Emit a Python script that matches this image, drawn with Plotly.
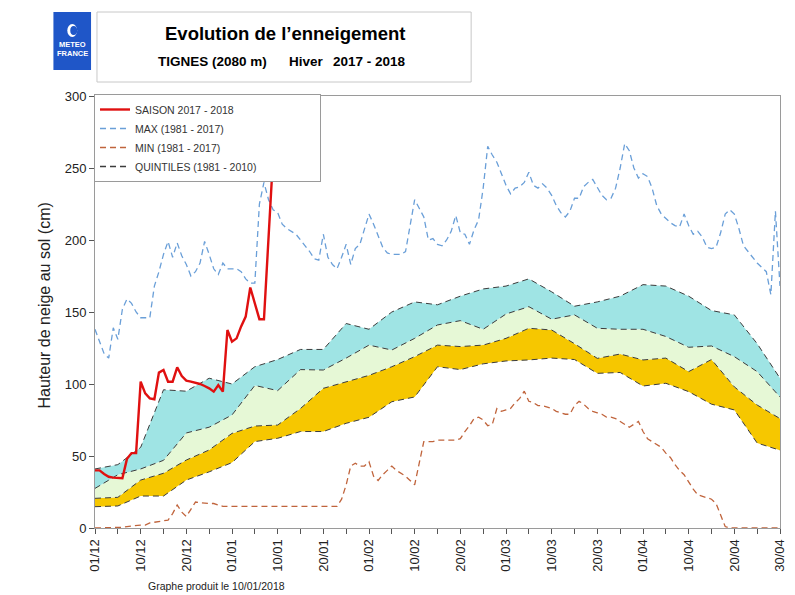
import plotly.graph_objects as go

# ---------------- DATA ----------------
# day index from 01/12 (0) to 30/04 (150)
days = list(range(151))
tick_days = [0, 10, 20, 30, 40, 50, 60, 70, 80, 90, 100, 110, 120, 130, 140, 150]
tick_labels = ["01/12", "10/12", "20/12", "01/01", "10/01", "20/01", "01/02", "10/02",
               "20/02", "01/03", "10/03", "20/03", "01/04", "10/04", "20/04", "30/04"]
minor_days = [5, 15, 25, 35, 45, 55, 65, 75, 85, 95, 105, 115, 125, 135, 145]

# season 2017-2018 (daily, 01/12 -> 09/01)
season_days = list(range(40))
season = [40, 40, 37.5, 35.6, 35, 34.5, 34.5, 48, 52, 52,
          101.6, 93.5, 90, 89.4, 107.9, 109.7, 101.6, 101.6, 111.6, 105.5,
          102.3, 101.6, 101, 100, 98.6, 97, 94.7, 99.3, 94.7, 137.5,
          129.4, 131.7, 140, 146.8, 167, 156, 145, 145, 200, 258]

max_1981_2017 = [138, 130, 121, 118, 139, 131, 152, 159, 156, 150,
                 146, 146, 146, 168, 178, 190, 199, 188, 198, 189,
                 183, 175, 178, 184, 199, 190, 180, 176, 184, 180,
                 180, 180, 178, 173, 170, 170, 225, 240, 228, 221,
                 219, 211, 208, 206, 204, 200, 196, 192, 187, 186,
                 204, 188, 183, 180, 188, 197, 183, 194, 197, 208,
                 218, 211, 203, 195, 191, 190, 190, 190, 192, 210,
                 228, 222, 216, 200, 201, 197, 196, 200, 206, 217,
                 205, 204, 197, 207, 214, 236, 265, 259, 254, 246,
                 238, 232, 236, 237, 240, 247, 238, 236, 239, 236,
                 231, 224, 219, 216, 220, 229, 229, 237, 240, 242,
                 236, 231, 228, 229, 236, 250, 267, 262, 250, 243,
                 246, 244, 236, 224, 218, 215, 212, 210, 209, 218,
                 210, 204, 206, 202, 195, 194, 195, 205, 218, 221,
                 218, 208, 196, 192, 188, 184, 181, 178, 162, 220,
                 168]

min_1981_2017 = [0, 0, 0, 0, 0, 0, 0.5, 1, 1.5, 2,
                 2, 2, 3.5, 4, 4.5, 5, 5.5, 10, 16, 11,
                 8, 13, 18, 17.5, 17, 17, 17, 16, 15, 15,
                 15, 15, 15, 15, 15, 15, 15, 15, 15, 15,
                 15, 15, 15, 15, 15, 15, 15, 15, 15, 15,
                 15, 15, 15, 15, 20, 30, 43, 45, 43, 43,
                 46, 36, 33, 37, 40, 43, 40, 38, 36, 33,
                 30, 45, 60, 60, 60, 61, 61, 61, 61, 61,
                 62, 67, 71, 76, 77, 75, 71, 72, 83, 81,
                 82, 83, 87, 90, 95, 88, 87, 85, 85, 84,
                 83, 81, 80, 79, 79, 85, 88, 86, 83, 81,
                 80, 79, 77, 77, 76, 74, 72, 70, 72, 74,
                 67, 62, 60, 58, 56, 52, 49, 44, 40, 37,
                 32, 27, 23, 22, 21, 20, 17, 9, 1, 0,
                 0, 0, 0, 0, 0, 0, 0, 0, 0, 0,
                 0]

# quintiles 1981-2010 (every 5 days)
quint_days = [0, 5, 10, 15, 20, 25, 30, 35, 40, 45, 50, 55, 60, 65, 70, 75,
              80, 85, 90, 95, 100, 105, 110, 115, 120, 125, 130, 135, 140, 145, 150]
q20 = [14.8, 15.3, 22.2, 22.2, 33.3, 39, 45.4, 60, 62.3, 67, 67, 72.7, 76.9, 87.7, 91, 112,
       110, 114, 116, 116.7, 118, 117, 107.4, 108, 98.6, 100.5, 94.7, 86, 82, 59, 54]
q40 = [20.6, 21.3, 33.3, 38, 47.2, 54.2, 65.7, 70.8, 71.5, 83, 97, 101.6, 106, 112, 119, 127,
       126, 127, 131.7, 138.7, 137.5, 128, 117.8, 120.8, 116.7, 118, 108.6, 117, 98, 85.4, 76]
q60 = [27.5, 37, 41, 47, 66, 70, 78.5, 99, 95.4, 110, 109.7, 118, 127, 123.6, 131.7, 141,
       144, 138, 148.6, 153.7, 145, 148, 138.7, 138, 138, 133, 125.5, 126.4, 119, 108.6, 91]
q80 = [41, 44, 56, 96, 95, 104, 100, 112, 117, 124, 124, 142, 138, 150, 157, 155,
       161, 166, 168, 173, 164, 154, 157, 161, 169, 168, 161, 151, 148, 128, 104]

# ---------------- FIGURE ----------------
W, H = 795, 595
L, R, T, B = 95, 787, 96, 528


def PX(x):
    return (x - L) / (R - L)


def PY(y):
    return (B - y) / (B - T)


QCOL = "#3c3c3c"
qline = dict(color=QCOL, width=1, dash="6px,4px")
PAD = "\u00a0" * 20   # blank room at the right of the legend box, as in the original

fig = go.Figure()
fig.add_trace(go.Scatter(x=quint_days, y=q20, mode="lines", line=qline, showlegend=False, hoverinfo="skip"))
fig.add_trace(go.Scatter(x=quint_days, y=q40, mode="lines", line=qline, fill="tonexty",
                         fillcolor="#f6c700", showlegend=False, hoverinfo="skip"))
fig.add_trace(go.Scatter(x=quint_days, y=q60, mode="lines", line=qline, fill="tonexty",
                         fillcolor="#e6f8d6", showlegend=False, hoverinfo="skip"))
fig.add_trace(go.Scatter(x=quint_days, y=q80, mode="lines", line=qline, fill="tonexty",
                         fillcolor="#9fe4e4", showlegend=False, hoverinfo="skip"))

fig.add_trace(go.Scatter(x=days, y=min_1981_2017, mode="lines", name="MIN (1981 - 2017)",
                         line=dict(color="#c0643c", width=1.3, dash="6px,4px"), legendrank=3))
fig.add_trace(go.Scatter(x=days, y=max_1981_2017, mode="lines", name="MAX (1981 - 2017)",
                         line=dict(color="#6a9fd8", width=1.3, dash="6px,4px"), legendrank=2))
fig.add_trace(go.Scatter(x=season_days, y=season, mode="lines", name="SAISON 2017 - 2018",
                         line=dict(color="#e01010", width=2.4), legendrank=1))
fig.add_trace(go.Scatter(x=[None], y=[None], mode="lines", name="QUINTILES (1981 - 2010)" + PAD,
                         line=dict(color=QCOL, width=1.3, dash="6px,4px"), legendrank=4))

axis_font = dict(family="Liberation Sans, Arial, sans-serif", size=13, color="#222")

fig.update_layout(
    width=W, height=H, autosize=False,
    margin=dict(l=L, r=W - R, t=T, b=H - B, pad=0),
    paper_bgcolor="white", plot_bgcolor="white",
    font=dict(family="Liberation Sans, Arial, sans-serif", color="#222"),
    showlegend=True,
    legend=dict(x=PX(94), y=PY(94), xanchor="left", yanchor="top", traceorder="normal",
                bgcolor="white", bordercolor="#9a9a9a", borderwidth=1,
                font=dict(family="Liberation Sans, Arial, sans-serif", size=10.5, color="#333"),
                tracegroupgap=0, itemwidth=30),
    xaxis=dict(range=[0, 150], tickmode="array", tickvals=tick_days, ticktext=tick_labels,
               tickangle=-90, ticks="outside", ticklen=5, tickcolor="#555",
               showline=True, linecolor="#9a9a9a", linewidth=1, mirror=True,
               showgrid=False, zeroline=False, tickfont=axis_font,
               minor=dict(tickmode="array", tickvals=minor_days, ticks="outside",
                          ticklen=5, tickcolor="#555", showgrid=False)),
    yaxis=dict(range=[0, 300], tickmode="array", tickvals=[0, 50, 100, 150, 200, 250, 300],
               ticks="outside", ticklen=5, tickcolor="#555",
               showline=True, linecolor="#9a9a9a", linewidth=1, mirror=True,
               showgrid=False, zeroline=False, tickfont=axis_font),
)


def note(x, y, text, size, family, color="black", bold=False, angle=0):
    fig.add_annotation(xref="paper", yref="paper", x=PX(x), y=PY(y),
                       xanchor="center", yanchor="middle", textangle=angle,
                       text=("<b>%s</b>" % text) if bold else text, showarrow=False,
                       font=dict(family=family, size=size, color=color))


BOLDF = "Liberation Sans, Arial, sans-serif"

# header: logo
fig.add_shape(type="rect", xref="paper", yref="paper", x0=PX(53), x1=PX(91), y0=PY(70), y1=PY(12),
              fillcolor="#1f56c8", line=dict(width=0), layer="above")
fig.add_shape(type="circle", xref="paper", yref="paper", x0=PX(67), x1=PX(77), y0=PY(37), y1=PY(24),
              fillcolor="white", line=dict(width=0), layer="above")
fig.add_shape(type="circle", xref="paper", yref="paper", x0=PX(70), x1=PX(77), y0=PY(35), y1=PY(26),
              fillcolor="#1f56c8", line=dict(width=0), layer="above")
note(72, 45, "METEO", 7.5, BOLDF, "white", True)
note(72, 54, "FRANCE", 7.5, BOLDF, "white", True)

# header: title box
fig.add_shape(type="rect", xref="paper", yref="paper", x0=PX(97), x1=PX(475), y0=PY(82), y1=PY(12),
              fillcolor="white", line=dict(color="#c8c8c8", width=1), layer="above")
note(287, 33, "Evolution de l’enneigement", 18.5, BOLDF, "black", True)
note(214, 62, "TIGNES (2080 m)", 13.5, BOLDF, "black", True)
note(309, 62, "Hiver", 13.5, BOLDF, "black", True)
note(372, 62, "2017 - 2018", 13.5, BOLDF, "black", True)

# y axis title
note(43, 306, "Hauteur de neige au sol (cm)", 16, "Liberation Sans, Arial, sans-serif", "#222", False, -90)
# footer
note(218, 586, "Graphe produit le 10/01/2018", 10.5, "Liberation Sans, Arial, sans-serif", "#222")

fig.write_html("out.html")
